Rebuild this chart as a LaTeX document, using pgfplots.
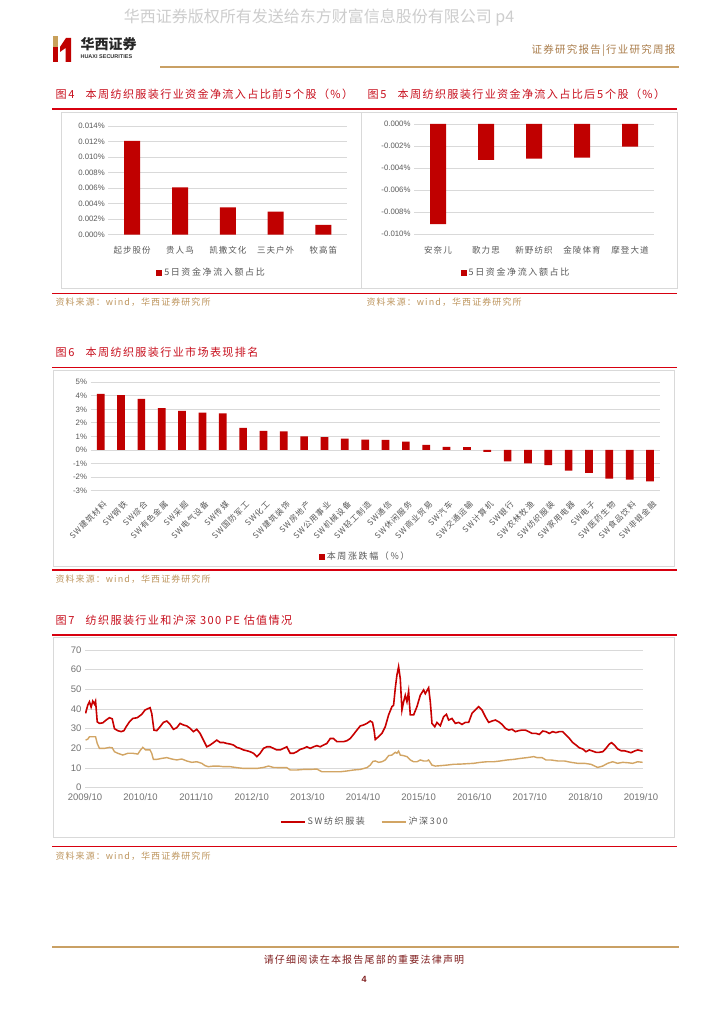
\documentclass[border=0pt]{standalone}
\usepackage{fontspec}
\setmainfont{Liberation Sans}
\newfontfamily\cjk{Noto Sans CJK SC}
\newfontfamily\cjkls[LetterSpace=12]{Noto Sans CJK SC}
\newfontfamily\cjklt[LetterSpace=18]{Noto Sans CJK SC}
\usepackage{pgfplots}
\pgfplotsset{compat=1.18}
\definecolor{barred}{RGB}{192,0,0}
\definecolor{linered}{RGB}{200,0,0}
\definecolor{sepred}{RGB}{215,0,15}
\definecolor{titlered}{RGB}{200,16,30}
\definecolor{goldline}{RGB}{201,160,100}
\definecolor{hs300}{RGB}{210,165,100}
\definecolor{srcgold}{RGB}{190,150,95}
\definecolor{gridgray}{RGB}{217,217,217}
\definecolor{tickgray}{RGB}{89,89,89}
\definecolor{boxgray}{RGB}{217,217,217}
\definecolor{wmgray}{RGB}{205,205,205}
\definecolor{footred}{RGB}{128,30,30}
\definecolor{headbrown}{RGB}{170,125,75}
\definecolor{logogold}{RGB}{200,160,90}
\pgfplotsset{
 /pgfplots/ybar legend/.style={/pgfplots/legend image code/.code={\fill[##1] (0pt,-3pt) rectangle (6pt,3pt);}},
 excel/.style={
  scale only axis, anchor=south west,
  axis line style={draw=none}, tick style={draw=none},
  ymajorgrids, major grid style={draw=gridgray, line width=0.8pt},
  yticklabel style={font=\fontsize{7.8}{9}\selectfont, text=tickgray},
  xticklabel style={font=\cjkls\fontsize{8.5}{10}\selectfont, text=tickgray},
  /pgf/number format/assume math mode=true,
  scaled y ticks=false,
  legend style={draw=none, fill=none, font=\cjklt\fontsize{9}{10}\selectfont, text=tickgray},
}}
\begin{document}
\begin{tikzpicture}
\useasboundingbox[fill=white] (0pt,0pt) rectangle (724pt,-1024pt);
% ---------- header ----------
\node[text=wmgray, font=\cjk\fontsize{16}{17}\selectfont] at (319pt,-18pt) {华西证券版权所有发送给东方财富信息股份有限公司 p4};
\fill[logogold] (53pt,-36pt) rectangle (58pt,-47pt);
\fill[barred] (53pt,-47pt) rectangle (58pt,-62pt);
\fill[barred] (60pt,-47pt) -- (66pt,-38pt) -- (71pt,-38pt) -- (71pt,-62pt) -- (65.5pt,-62pt) -- (65.5pt,-48pt) -- (60pt,-52pt) -- cycle;
\node[anchor=west, text=black!85, font=\cjk\bfseries\fontsize{14}{15}\selectfont] at (77pt,-44pt) {华西证券};
\node[anchor=west, text=black!80, font=\bfseries\fontsize{5.5}{6}\selectfont] at (77pt,-57pt) {HUAXI SECURITIES};
\node[anchor=east, text=headbrown, font=\cjkls\fontsize{10.5}{12}\selectfont] at (679pt,-51pt) {证券研究报告|行业研究周报};
\draw[goldline, line width=2.2pt] (160pt,-67pt) -- (679pt,-67pt);
% ---------- fig 4 / fig 5 frame ----------
\node[anchor=west, text=titlered, font=\cjkls\fontsize{11.1}{12}\selectfont] at (52pt,-94pt) {图\,4\quad 本周纺织服装行业资金净流入占比前\,5\,个股（\%）};
\node[anchor=west, text=titlered, font=\cjkls\fontsize{11.1}{12}\selectfont] at (364pt,-94pt) {图\,5\quad 本周纺织服装行业资金净流入占比后\,5\,个股（\%）};
\draw[sepred, line width=1.5pt] (52pt,-109pt) -- (677pt,-109pt);
\draw[boxgray, line width=0.8pt] (61pt,-112pt) rectangle (361pt,-288pt);
\draw[boxgray, line width=0.8pt] (361pt,-112pt) rectangle (677pt,-288pt);
\draw[sepred, line width=1.5pt] (52pt,-293.5pt) -- (677pt,-293.5pt);
\node[anchor=west, text=srcgold, font=\cjkls\fontsize{9}{10}\selectfont] at (52pt,-302pt) {资料来源：wind，华西证券研究所};
\node[anchor=west, text=srcgold, font=\cjkls\fontsize{9}{10}\selectfont] at (363pt,-302pt) {资料来源：wind，华西证券研究所};
% fig 4
\begin{axis}[excel, at={(108.3pt,-234.7pt)}, width=239pt, height=108.7pt,
  xmin=-0.5, xmax=4.5, ymin=0, ymax=0.014,
  ytick={0,0.002,0.004,0.006,0.008,0.010,0.012,0.014},
  yticklabel={\pgfmathprintnumber[fixed,fixed zerofill,precision=3]{\tick}\%},
  xtick={0,1,2,3,4}, xticklabels={起步股份,贵人鸟,凯撒文化,三夫户外,牧高笛},
  xticklabel style={yshift=-4pt},
  ybar, bar width=16pt,
  legend style={at={(0.432,-0.35)}, anchor=center}]
\addplot[fill=barred, draw=none] coordinates {(0,0.0121) (1,0.0061) (2,0.00353) (3,0.00296) (4,0.00125)};
\addlegendentry{5日资金净流入额占比}
\end{axis}
% fig 5
\begin{axis}[excel, at={(414pt,-234.3pt)}, width=240pt, height=110.3pt,
  xmin=-0.5, xmax=4.5, ymin=-0.010, ymax=0,
  ytick={-0.010,-0.008,-0.006,-0.004,-0.002,0},
  yticklabel={\pgfmathprintnumber[fixed,fixed zerofill,precision=3]{\tick}\%},
  xtick={0,1,2,3,4}, xticklabels={安奈儿,歌力思,新野纺织,金陵体育,摩登大道},
  xticklabel style={yshift=-4pt},
  ybar, bar width=16pt,
  legend style={at={(0.425,-0.348)}, anchor=center}]
\addplot[fill=barred, draw=none] coordinates {(0,-0.00907) (1,-0.00326) (2,-0.00314) (3,-0.00305) (4,-0.00206)};
\addlegendentry{5日资金净流入额占比}
\end{axis}
% ---------- fig 6 ----------
\node[anchor=west, text=titlered, font=\cjkls\fontsize{11.1}{12}\selectfont] at (52pt,-352.5pt) {图\,6\quad 本周纺织服装行业市场表现排名};
\draw[sepred, line width=1.5pt] (52pt,-367.7pt) -- (677pt,-367.7pt);
\draw[boxgray, line width=0.8pt] (53pt,-370pt) rectangle (674pt,-566pt);
\draw[sepred, line width=1.5pt] (52pt,-570pt) -- (677pt,-570pt);
\node[anchor=west, text=srcgold, font=\cjkls\fontsize{9}{10}\selectfont] at (52pt,-579pt) {资料来源：wind，华西证券研究所};
\begin{axis}[excel, at={(90.5pt,-490.5pt)}, width=569.7pt, height=108.2pt,
  xmin=-0.5, xmax=27.5, ymin=-3, ymax=5,
  ytick={-3,-2,-1,0,1,2,3,4,5},
  yticklabel={\pgfmathprintnumber{\tick}\%},
  xtick={0,...,27},
  xticklabels={SW建筑材料,SW钢铁,SW综合,SW有色金属,SW采掘,SW电气设备,SW传媒,SW国防军工,SW化工,SW建筑装饰,SW房地产,SW公用事业,SW机械设备,SW轻工制造,SW通信,SW休闲服务,SW商业贸易,SW汽车,SW交通运输,SW计算机,SW银行,SW农林牧渔,SW纺织服装,SW家用电器,SW电子,SW医药生物,SW食品饮料,SW非银金融},
  xticklabel style={rotate=45, anchor=east, font=\cjkls\fontsize{8}{9}\selectfont, xshift=1pt, yshift=-9pt},
  ybar, bar width=7.7pt,
  legend style={at={(0.482,-0.612)}, anchor=center}]
\addplot[fill=barred, draw=none] coordinates {(0,4.14) (1,4.06) (2,3.77) (3,3.10) (4,2.88) (5,2.76) (6,2.71) (7,1.63) (8,1.40) (9,1.38) (10,1.01) (11,0.94) (12,0.84) (13,0.77) (14,0.74) (15,0.62) (16,0.37) (17,0.22) (18,0.20) (19,-0.15) (20,-0.84) (21,-0.99) (22,-1.13) (23,-1.53) (24,-1.70) (25,-2.12) (26,-2.19) (27,-2.32)};
\addlegendentry{本周涨跌幅（\%）}
\end{axis}
% ---------- fig 7 ----------
\node[anchor=west, text=titlered, font=\cjkls\fontsize{11.1}{12}\selectfont] at (52pt,-620.7pt) {图\,7\quad 纺织服装行业和沪深 300 PE 估值情况};
\draw[sepred, line width=1.5pt] (52pt,-635pt) -- (677pt,-635pt);
\draw[boxgray, line width=0.8pt] (53pt,-637pt) rectangle (674pt,-837pt);
\draw[sepred, line width=1.5pt] (52pt,-846.7pt) -- (677pt,-846.7pt);
\node[anchor=west, text=srcgold, font=\cjkls\fontsize{9}{10}\selectfont] at (52pt,-856pt) {资料来源：wind，华西证券研究所};
\begin{axis}[excel, at={(85pt,-787.7pt)}, width=557.7pt, height=137.7pt,
  xmin=2009.75, xmax=2019.78, ymin=0, ymax=70,
  ytick={0,10,20,30,40,50,60,70},
  yticklabel style={font=\fontsize{9.5}{11}\selectfont, text=black!55},
  xtick={2009.75,2010.75,2011.75,2012.75,2013.75,2014.75,2015.75,2016.75,2017.75,2018.75,2019.75},
  xticklabels={2009/10,2010/10,2011/10,2012/10,2013/10,2014/10,2015/10,2016/10,2017/10,2018/10,2019/10},
  xticklabel style={font=\fontsize{9.5}{11}\selectfont, text=black!55, yshift=-2pt},
  legend columns=2,
  legend style={at={(0.502,-0.247)}, anchor=center, /tikz/every even column/.append style={column sep=14pt}},
  legend image code/.code={\draw[#1, line width=1.6pt] (0pt,0pt) -- (24pt,0pt);}]
\addplot[linered, line width=1.6pt] coordinates {
(2009.76,37.8) (2009.80,42) (2009.83,43.7) (2009.86,41) (2009.89,44) (2009.92,42.5) (2009.94,44) (2009.97,33.5) (2010.01,32.7) (2010.07,33) (2010.13,34.4) (2010.19,35.6) (2010.24,35) (2010.28,30) (2010.34,29) (2010.40,28.5) (2010.45,29) (2010.49,31) (2010.55,33.5) (2010.61,35.2) (2010.69,35.6) (2010.77,37.3) (2010.83,39.5) (2010.89,40.3) (2010.92,40.7) (2010.95,37.8) (2010.99,29.3) (2011.04,29) (2011.10,31) (2011.16,33.2) (2011.22,33.9) (2011.28,32.2) (2011.34,29.7) (2011.40,30.5) (2011.46,32.7) (2011.52,31.9) (2011.58,31.4) (2011.64,30.2) (2011.70,28.5) (2011.76,29.7) (2011.82,27.6) (2011.88,24.2) (2011.94,20.8) (2012.00,21.7) (2012.06,22.9) (2012.12,24.2) (2012.18,23) (2012.24,23) (2012.30,22.5) (2012.36,22.2) (2012.42,21.7) (2012.48,20.5) (2012.54,20) (2012.60,19.2) (2012.66,18.8) (2012.72,18.3) (2012.78,17.5) (2012.84,15.8) (2012.90,17.5) (2012.96,20) (2013.02,20.8) (2013.08,20.8) (2013.14,20) (2013.20,19.2) (2013.26,19.2) (2013.32,20) (2013.38,20.8) (2013.44,17.5) (2013.50,17.5) (2013.56,18.3) (2013.62,19.5) (2013.68,20) (2013.74,20.8) (2013.80,20) (2013.86,20.8) (2013.92,21.4) (2013.98,20.8) (2014.04,21.7) (2014.10,22.5) (2014.16,25) (2014.22,25) (2014.28,23.4) (2014.34,23.4) (2014.40,23.4) (2014.46,23.9) (2014.52,25) (2014.58,27.1) (2014.64,29.3) (2014.70,31.4)
(2014.76,31.9) (2014.82,32.7) (2014.88,33.9) (2014.92,33.2) (2014.95,29) (2014.97,24.5) (2015.03,25.9) (2015.09,27.6) (2015.15,31) (2015.21,37) (2015.27,41.2) (2015.30,42) (2015.33,50.5) (2015.36,57.3) (2015.39,61.5) (2015.42,55.4) (2015.45,39.5) (2015.48,43.7) (2015.51,47) (2015.54,43.7) (2015.57,49) (2015.60,37) (2015.66,37) (2015.72,41.2) (2015.78,47) (2015.84,49.7) (2015.87,47.8) (2015.93,50.8) (2015.96,43.7) (2015.99,32.7) (2016.04,31) (2016.08,33.2) (2016.14,31.5) (2016.20,36.1) (2016.25,37.3) (2016.29,34.4) (2016.35,35.2) (2016.41,32.7) (2016.47,33.2) (2016.53,32.2) (2016.59,33.2) (2016.65,33.2) (2016.71,37.8) (2016.77,39.5) (2016.83,41.2) (2016.89,39.5) (2016.95,36.1) (2017.01,33.2) (2017.07,33.9) (2017.13,34.4) (2017.19,33.5) (2017.25,32.2) (2017.31,30.2) (2017.37,29.3) (2017.43,29.7) (2017.49,28.5) (2017.55,29) (2017.61,29.3) (2017.67,29.3) (2017.73,28.5) (2017.79,27.6) (2017.86,27.6) (2017.92,27.1) (2017.98,28.8) (2018.04,28.5) (2018.10,27.6) (2018.16,28.5) (2018.22,28) (2018.28,28.5) (2018.34,28.5) (2018.40,26.8) (2018.46,25.1) (2018.52,23) (2018.58,21.7) (2018.64,20.3) (2018.70,19.7) (2018.76,18.3) (2018.82,19.2) (2018.88,18.6) (2018.94,18) (2019.00,18) (2019.06,18.3) (2019.12,20) (2019.18,22.2) (2019.22,22.9) (2019.27,21.7) (2019.33,19.7) (2019.39,18.8) (2019.45,18.8) (2019.51,18.3) (2019.57,17.8) (2019.63,18.6) (2019.69,19.2) (2019.78,18.6)};
\addlegendentry{SW纺织服装}
\addplot[hs300, line width=1.4pt] coordinates {
(2009.76,24.2) (2009.80,24.7) (2009.83,25.9) (2009.89,25.9) (2009.94,25.9) (2009.97,22.5) (2010.01,20) (2010.10,20) (2010.19,20.5) (2010.24,20.3) (2010.28,18.3) (2010.34,17.5) (2010.43,16.6) (2010.52,17.5) (2010.61,17.5) (2010.70,17.1) (2010.75,19.2) (2010.79,20.5) (2010.84,19.2) (2010.92,19.2) (2010.95,17.5) (2010.98,14.4) (2011.04,14.4) (2011.13,14.9) (2011.22,15.3) (2011.31,14.6) (2011.40,14.1) (2011.49,14.6) (2011.58,13.6) (2011.67,12.9) (2011.76,13.2) (2011.85,12.4) (2011.91,11.2) (2011.97,10.7) (2012.06,11) (2012.15,11) (2012.24,10.7) (2012.36,10.7) (2012.48,10.2) (2012.60,9.8) (2012.72,9.8) (2012.84,9.8) (2012.96,10.3) (2013.05,11) (2013.14,10.3) (2013.26,10.2) (2013.38,10.2) (2013.44,9) (2013.56,9) (2013.68,9.3) (2013.80,9.3) (2013.92,9.5) (2014.01,8.1) (2014.10,8.1) (2014.22,8.1) (2014.34,8.1) (2014.46,8.5) (2014.58,9) (2014.70,9.3)
(2014.82,10.2) (2014.88,11.5) (2014.93,13.4) (2014.97,13.6) (2015.03,12.9) (2015.09,13.2) (2015.15,14.1) (2015.21,16.3) (2015.27,16.6) (2015.33,18) (2015.36,17.5) (2015.39,18.6) (2015.42,16.6) (2015.48,16.3) (2015.54,15.8) (2015.60,14.1) (2015.66,13.2) (2015.72,13.2) (2015.78,14.1) (2015.84,13.6) (2015.90,13.6) (2015.93,14.1) (2015.99,11.5) (2016.05,11) (2016.14,11.2) (2016.26,11.5) (2016.38,11.9) (2016.50,12) (2016.62,12.2) (2016.74,12.4) (2016.86,12.9) (2016.98,13.2) (2017.10,13.2) (2017.22,13.6) (2017.34,14.1) (2017.46,14.4) (2017.58,14.9) (2017.70,15.3) (2017.82,15.8) (2017.88,15.3) (2017.97,15.3) (2018.04,14.1) (2018.13,14.1) (2018.25,13.6) (2018.37,13.6) (2018.49,12.9) (2018.61,12.4) (2018.73,12.4) (2018.85,11.9) (2018.97,10.3) (2019.06,11) (2019.15,12.4) (2019.24,13.2) (2019.33,12.4) (2019.42,12.9) (2019.51,12.7) (2019.60,12.4) (2019.69,13.2) (2019.78,12.9)};
\addlegendentry{沪深300}
\end{axis}
% ---------- footer ----------
\draw[goldline, line width=2.2pt] (52pt,-947pt) -- (679pt,-947pt);
\node[text=footred, font=\cjkls\fontsize{10}{11}\selectfont] at (364pt,-960pt) {请仔细阅读在本报告尾部的重要法律声明};
\node[text=footred, font=\bfseries\fontsize{9}{10}\selectfont] at (364pt,-979pt) {4};
\end{tikzpicture}
\end{document}
